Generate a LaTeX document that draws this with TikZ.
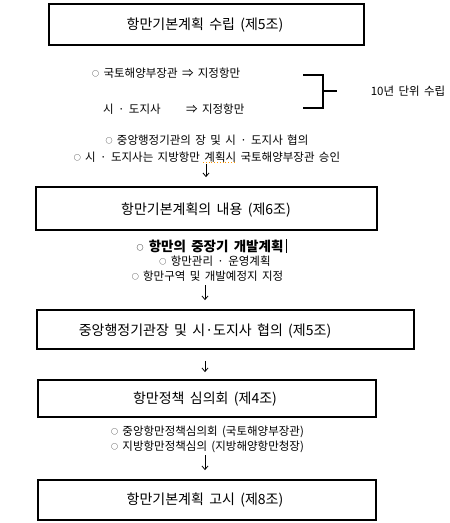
\documentclass[tikz,border=0pt]{standalone}
\usepackage{fontspec}
\setmainfont[WordSpace=1.7]{Noto Sans CJK KR}
\usetikzlibrary{arrows.meta,calc}
\newcommand\bul{\raisebox{0.8pt}{\fontsize{7pt}{7pt}\selectfont ○}}
\tikzset{
  box/.style={draw=black, line width=1.8pt, inner sep=0pt},
  boxtext/.style={font=\fontsize{14pt}{16pt}\selectfont, inner sep=0pt},
  body/.style={font=\fontsize{11.5pt}{13pt}\selectfont, inner sep=0pt},
  boldbody/.style={font=\fontsize{13.5pt}{15pt}\selectfont\bfseries, inner sep=0pt},
  arr/.style={line width=0.8pt, -{Straight Barb[length=3.5pt,width=6pt,line width=0.8pt]}},
  brk/.style={line width=1.1pt}
}
\begin{document}
\begin{tikzpicture}[x=1pt,y=-1pt]
\useasboundingbox (0,0) rectangle (450,523);
% boxes
\node[box, minimum width=315pt, minimum height=41pt] (b1) at (206.5,24.5) {};
\node[boxtext] (t1) at (205,25) {항만기본계획 수립 (제5조)};
\node[box, minimum width=341pt, minimum height=43pt] (b2) at (206.5,208.5) {};
\node[boxtext] (t2) at (206,210) {항만기본계획의 내용 (제6조)};
\node[box, minimum width=377pt, minimum height=39pt] (b3) at (225.5,329.5) {};
\node[boxtext] (t3) at (205,331) {중앙행정기관장 및 시·도지사 협의 (제5조)};
\node[box, minimum width=338pt, minimum height=37pt] (b4) at (207,398.5) {};
\node[boxtext] (t4) at (205,399) {항만정책 심의회 (제4조)};
\node[box, minimum width=338pt, minimum height=40pt] (b5) at (207,500) {};
\node[boxtext] (t5) at (205,500) {항만기본계획 고시 (제8조)};
% body lines
\node[body, anchor=west] (l1) at (92,73) {\bul\ 국토해양부장관 ⇒ 지정항만};
\node[body, anchor=west] (l2) at (103,109) {\makebox[83pt][l]{시 · 도지사}⇒ 지정항만};
\node[body] (w) at (408,91) {10년 단위 수립};
\node[body] (l3) at (207,140) {\bul\ 중앙행정기관의 장 및 시 · 도지사 협의};
\node[body] (l4) at (207,157) {\bul\ 시 · 도지사는 지방항만 계획시 국토해양부장관 승인};
\node[boldbody] (l5) at (210,246) {\bul\ 항만의 중장기 개발계획};
\node[body] (l6) at (215,261) {\bul\ 항만관리 · 운영계획};
\node[body] (l7) at (207.5,276) {\bul\ 항만구역 및 개발예정지 지정};
\node[body] (l8) at (207.5,432) {\bul\ 중앙항만정책심의회 (국토해양부장관)};
\node[body] (l9) at (207.5,447) {\bul\ 지방항만정책심의 (지방해양항만청장)};
% cursor bar
\draw[line width=0.6pt] ($(l5.east)+(3,-7)$) -- ($(l5.east)+(3,7)$);
% spell-check squiggle
\draw[orange!80!yellow, line width=0.8pt, dotted] (203,162) -- (235,162);
% bracket
\coordinate (bt) at (303,75);
\coordinate (bb) at (303,108);
\coordinate (bm) at (337,91);
\draw[brk] (bt) -- (323,75) -- (323,108) -- (bb);
\draw[brk] (323,91) -- (bm);
% arrows
\draw[arr, shorten <=2pt, shorten >=9pt] (t2.north |- l4.south) -- (t2.north |- b2.north);
\draw[arr, shorten <=4pt, shorten >=9pt] (t3.north |- l7.south) -- (t3.north |- b3.north);
\draw[arr, shorten <=11pt, shorten >=7pt] (t4.north |- b3.south) -- (t4.north |- b4.north);
\draw[arr, shorten <=2pt, shorten >=9pt] (t5.north |- l9.south) -- (t5.north |- b5.north);
\end{tikzpicture}
\end{document}
